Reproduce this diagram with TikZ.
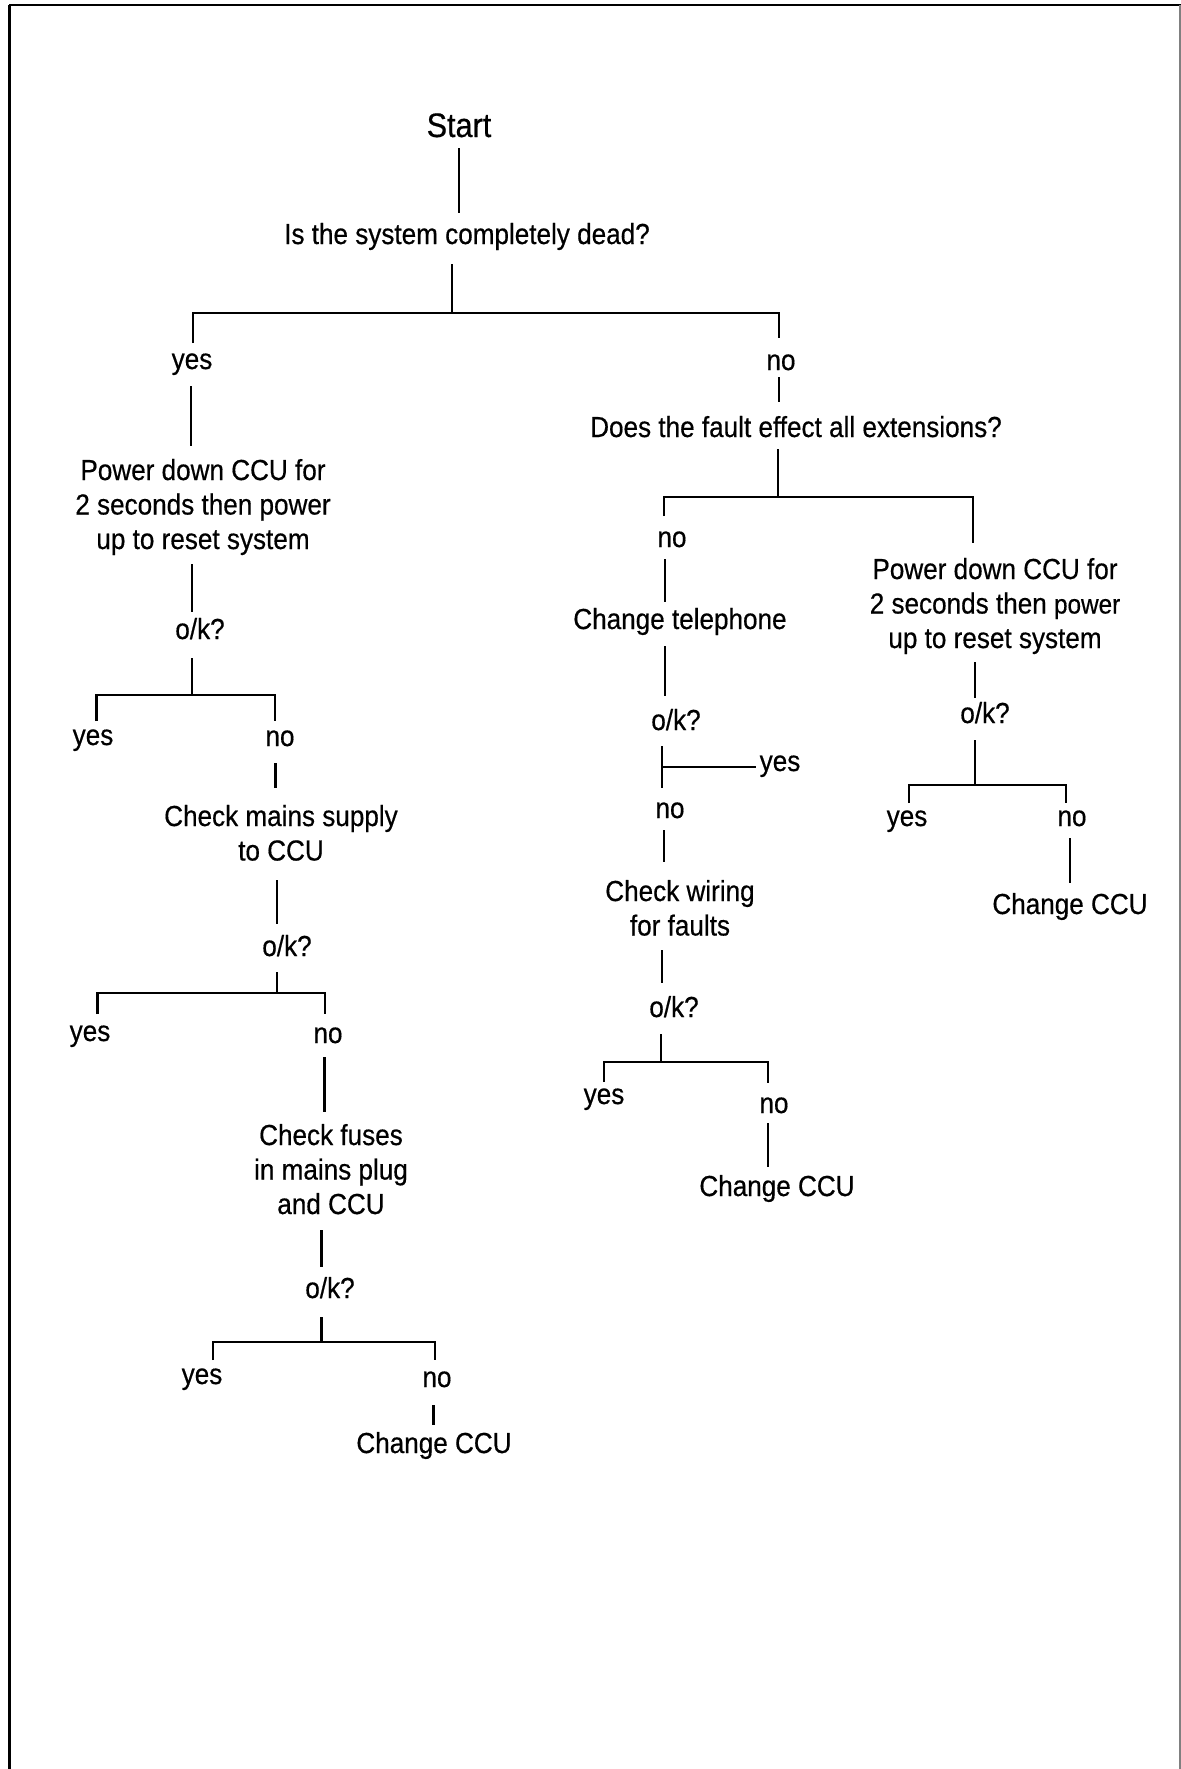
\documentclass[tikz,border=0pt]{standalone}
\usepackage{fontspec}
\setmainfont{Liberation Sans}[FakeStretch=0.9,FakeBold=0.5]
\usetikzlibrary{calc}
\begin{document}
\begin{tikzpicture}[x=0.5pt,y=-0.5pt,
  lbl/.style={anchor=base, inner sep=0pt, align=center, font=\fontsize{14.5pt}{17.25pt}\selectfont},
  big/.style={font=\fontsize{17pt}{20pt}\selectfont},
  conn/.style={line width=1.15pt},
  frame/.style={line width=1.1pt}]
\useasboundingbox (0,0) rectangle (1181,1769);
% frame (open at the bottom)
\draw[frame, line width=1.5pt] (9.5,1769) -- (9.5,5);
\draw[frame] (9,5) -- (1181,5);
\draw[line width=0.6pt, gray] (1180,5) -- (1180,1769);

% ---------- nodes (multi-line nodes are placed at their last baseline) ----------
\node[lbl,big] (start) at (459,137) {Start};
\node[lbl] (q1) at (467,244) {Is the system completely dead?};
\node[lbl] (yes1) at (192,369) {yes};
\node[lbl] (no1) at (781,370) {no};
\node[lbl] (q2) at (796,437) {Does the fault effect all extensions?};
% left branch
\node[lbl] (pd1) at (203,549) {Power down CCU for\\2 seconds then power\\up to reset system};
\node[lbl] (ok1) at (200,639) {o/k?};
\node[lbl] (yes2) at (93,745) {yes};
\node[lbl] (no2) at (280,746) {no};
\node[lbl] (cm) at (281,860.5) {Check mains supply\\to CCU};
\node[lbl] (ok2) at (287,956) {o/k?};
\node[lbl] (yes3) at (90,1041) {yes};
\node[lbl] (no3) at (328,1043) {no};
\node[lbl] (cf) at (331,1214) {Check fuses\\in mains plug\\and CCU};
\node[lbl] (ok3) at (330,1298) {o/k?};
\node[lbl] (yes4) at (202,1384) {yes};
\node[lbl] (no4) at (437,1387) {no};
\node[lbl] (ccu1) at (434,1453) {Change CCU};
% middle branch
\node[lbl] (no5) at (672,547) {no};
\node[lbl] (ct) at (680,629) {Change telephone};
\node[lbl] (ok4) at (676,730) {o/k?};
\node[lbl] (yes5) at (780,771) {yes};
\node[lbl] (no7) at (670,818) {no};
\node[lbl] (cw) at (680,935.5) {Check wiring\\for faults};
\node[lbl] (ok6) at (674,1017) {o/k?};
\node[lbl] (yes7) at (604,1104) {yes};
\node[lbl] (no8) at (774,1113) {no};
\node[lbl] (ccu2) at (777,1196) {Change CCU};
% right branch
\node[lbl] (pd2) at (995,648) {Power down CCU for\\2 seconds then {\fontsize{13.5pt}{17.25pt}\selectfont power}\\up to reset system};
\node[lbl] (ok5) at (985,723) {o/k?};
\node[lbl] (yes6) at (907,826) {yes};
\node[lbl] (no6) at (1072,826) {no};
\node[lbl] (ccu3) at (1070,914) {Change CCU};

% ---------- junctions ----------
\coordinate (b1) at (452,313);
\coordinate (b2) at (778,497);
\coordinate (b3) at (661,1062);
\coordinate (b4) at (975,785);
\coordinate (b5) at (192,695);
\coordinate (b6) at (277,993);
\coordinate (b7) at (321.5,1342);
\coordinate (tj) at (662,767);

% ---------- connectors ----------
\draw[conn] ($(start.base)+(0,11)$) -- ($(q1.base)+(-8,-31)$);
\draw[conn] ($(q1.base)+(-15,20)$) -- (b1);
\draw[conn] ($(yes1.base)+(1,-26)$) |- (b1) -| ($(no1.base)+(-2,-32)$);
\draw[conn] ($(yes1.base)+(-1,17)$) -- ($(pd1.base)+(-12,-103)$);
\draw[conn] ($(no1.base)+(-2,7)$) -- ($(q2.base)+(-17,-35)$);
\draw[conn] ($(q2.base)+(-18,12)$) -- (b2);
\draw[conn] ($(no5.base)+(-8,-31)$) |- (b2) -| ($(pd2.base)+(-22,-105)$);

% middle branch
\draw[conn] ($(no5.base)+(-7,12)$) -- ($(ct.base)+(-15,-27)$);
\draw[conn] ($(ct.base)+(-15,17)$) -- ($(ok4.base)+(-11,-34)$);
\draw[conn] ($(ok4.base)+(-14,16)$) -- ($(no7.base)+(-8,-30)$);
\draw[conn] (tj) -- ($(yes5.base)+(-24,-4)$);
\draw[conn] ($(no7.base)+(-6,12)$) -- ($(cw.base)+(-16,-73.5)$);
\draw[conn] ($(cw.base)+(-18,14.5)$) -- ($(ok6.base)+(-12,-34)$);
\draw[conn] ($(ok6.base)+(-13,17)$) -- (b3);
\draw[conn] ($(yes7.base)+(0,-22)$) |- (b3) -| ($(no8.base)+(-6,-30)$);
\draw[conn] ($(no8.base)+(-6,10)$) -- ($(ccu2.base)+(-9,-29)$);

% right branch
\draw[conn] ($(pd2.base)+(-20,14)$) -- ($(ok5.base)+(-10,-25)$);
\draw[conn] ($(ok5.base)+(-10,17)$) -- (b4);
\draw[conn] ($(yes6.base)+(2,-23)$) |- (b4) -| ($(no6.base)+(-6,-23)$);
\draw[conn] ($(no6.base)+(-2,12)$) -- ($(ccu3.base)+(0,-31)$);

% left branch
\draw[conn] ($(pd1.base)+(-11,15)$) -- ($(ok1.base)+(-8,-27)$);
\draw[conn] ($(ok1.base)+(-8,19)$) -- (b5);
\draw[conn] ($(yes2.base)+(3.5,-24)$) |- (b5) -| ($(no2.base)+(-5,-25)$);
\draw[conn] ($(no2.base)+(-4.5,17)$) -- ($(cm.base)+(-5.5,-72.5)$);
\draw[conn] ($(cm.base)+(-4,19.5)$) -- ($(ok2.base)+(-10,-32)$);
\draw[conn] ($(ok2.base)+(-10,16)$) -- (b6);
\draw[conn] ($(yes3.base)+(7.6,-27)$) |- (b6) -| ($(no3.base)+(-3,-29)$);
\draw[conn] ($(no3.base)+(-3.5,14)$) -- ($(cf.base)+(-6.5,-102)$);
\draw[conn] ($(cf.base)+(-9.5,16)$) -- ($(ok3.base)+(-8.5,-31)$);
\draw[conn] ($(ok3.base)+(-8.5,19)$) -- (b7);
\draw[conn] ($(yes4.base)+(11,-24)$) |- (b7) -| ($(no4.base)+(-2,-27)$);
\draw[conn] ($(no4.base)+(-3.4,18)$) -- ($(ccu1.base)+(-0.4,-28)$);
\end{tikzpicture}
\end{document}
